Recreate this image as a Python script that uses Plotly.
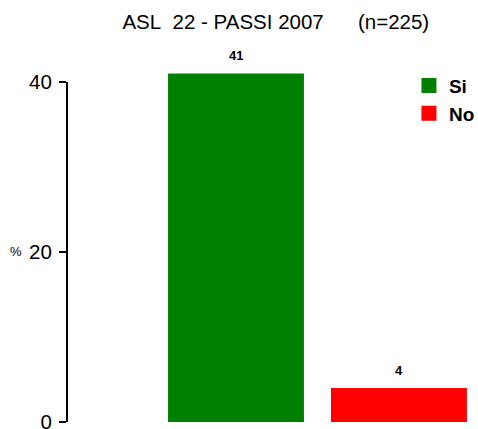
import plotly.graph_objects as go

# dati
categorie = ["Si", "No"]
valori = [41, 4]
colori = ["#008000", "#ff0000"]
tick_vals = [0, 20, 40]
titolo = "ASL\u00a0\u00a022 - PASSI 2007\u00a0\u00a0\u00a0\u00a0\u00a0\u00a0(n=225)"

FONT = "Liberation Sans, Arial, sans-serif"

fig = go.Figure()
for i, (cat, val) in enumerate(zip(categorie, valori)):
    fig.add_trace(go.Bar(
        x=[cat], y=[val], name=cat, showlegend=False,
        marker_color=colori[i], marker_line_width=0, width=0.834,
    ))
    # voce di legenda con quadrato piu' grande
    fig.add_trace(go.Scatter(
        x=[None], y=[None], mode="markers", name=f"<b>{cat}</b>",
        marker=dict(symbol="square", size=15, color=colori[i]),
    ))
    # etichetta valore sopra la barra
    fig.add_annotation(
        x=cat, y=val, text=f"<b>{val}</b>", showarrow=False,
        yanchor="bottom", yshift=8, font=dict(size=13, color="black", family=FONT),
    )

# linea asse y solo fino a 40
fig.add_shape(type="line", xref="paper", yref="y", x0=0, x1=0, y0=0, y1=40,
              line=dict(color="black", width=2))

fig.add_annotation(text="%", xref="paper", yref="y", x=0, y=20, xanchor="right",
                   xshift=-43, showarrow=False, font=dict(size=13, color="black", family=FONT))

fig.update_xaxes(range=[-1.037, 1.485], showticklabels=False, showgrid=False,
                 zeroline=False, showline=False, automargin=False,
                 categoryorder="array", categoryarray=categorie)
fig.update_yaxes(range=[0, 43.76], tickvals=tick_vals, ticks="outside", ticklen=7,
                 tickwidth=1.5, tickcolor="black", showgrid=False, zeroline=False,
                 showline=False, ticklabeloverflow="allow", automargin=False,
                 ticklabelstandoff=3,
                 tickfont=dict(size=20.5, color="black", family=FONT))

fig.update_layout(
    width=478, height=429,
    margin=dict(l=67, r=0, t=50, b=7, autoexpand=False),
    paper_bgcolor="white", plot_bgcolor="white",
    title=dict(text=titolo, x=0.577, xanchor="center", y=0.95, yanchor="middle",
               font=dict(size=20.5, color="black", family=FONT)),
    legend=dict(x=0.832, y=0.955, xanchor="left", yanchor="top", tracegroupgap=0,
                font=dict(size=19, color="black", family=FONT), bgcolor="rgba(0,0,0,0)"),
    font=dict(family=FONT),
    showlegend=True,
)

fig.write_html("out.html", config={"displayModeBar": False},
               post_script="document.body.style.margin='0';")
